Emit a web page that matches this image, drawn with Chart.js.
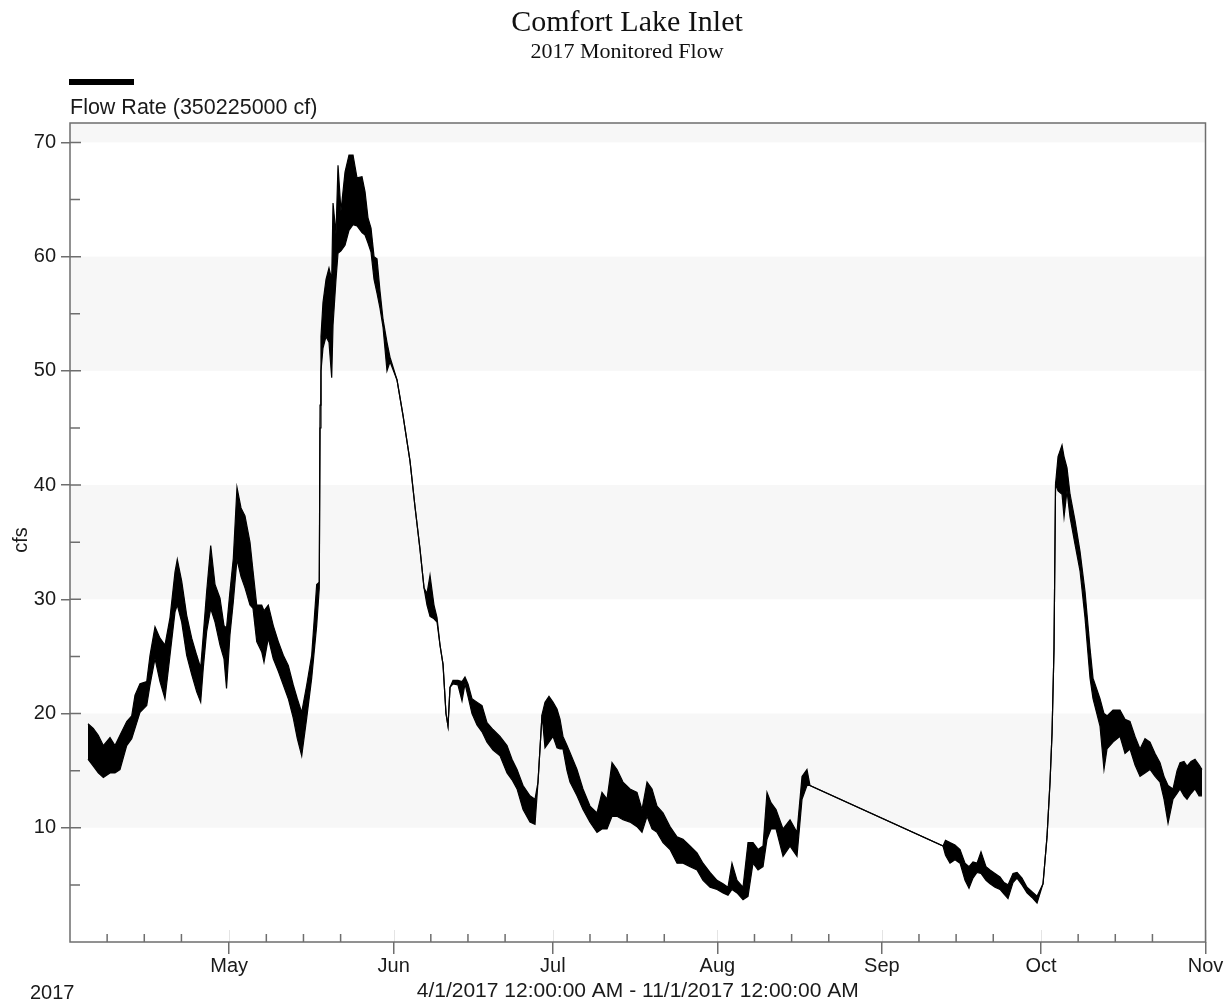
<!DOCTYPE html>
<html>
<head>
<meta charset="utf-8">
<title>Comfort Lake Inlet</title>
<style>
  html, body { margin: 0; padding: 0; background: #fff; }
  #wrap { width: 1228px; height: 1005px; position: relative; }
</style>
<script src="https://cdn.jsdelivr.net/npm/chart.js@4.4.1/dist/chart.umd.min.js"></script>
</head>
<body>
<div id="wrap"><canvas id="flowChart" width="1228" height="1005"></canvas></div>
<script>
// ---- Text ----
const chartTitle = 'Comfort Lake Inlet';
const chartSubtitle = '2017 Monitored Flow';
const seriesLabel = 'Flow Rate (350225000 cf)';
const yAxisLabel = 'cfs';
const yearLabel = '2017';
const rangeLabel = '4/1/2017 12:00:00 AM - 11/1/2017 12:00:00 AM';

// ---- X axis: days since 4/1/2017 ----
const monthDays = [30, 61, 91, 122, 153, 183, 214];
const monthLabels = ['May', 'Jun', 'Jul', 'Aug', 'Sep', 'Oct', 'Nov'];
// 8th, 15th and 22nd of each month
const weekDays = [7, 14, 21, 37, 44, 51, 68, 75, 82, 98, 105, 112, 129, 136, 143, 160, 167, 174, 190, 197, 204];

// ---- Y axis ----
const yTicks = [10, 20, 30, 40, 50, 60, 70];
const yMinorTicks = [5, 15, 25, 35, 45, 55, 65];
const shadedBands = [[10, 20], [30, 40], [50, 60], [70, 71.7]];

// ---- Flow record (cfs): day, low and high of the readings around that day ----
const flowDays = [
  3.39, 4.39, 5.33, 6.28, 7.54, 8.48, 9.42, 10.69, 11.63, 12.25,
  13.19, 14.46, 15.08, 16.02, 16.96, 17.90, 18.85, 19.79, 20.22, 21.05,
  21.99, 22.94, 23.88, 24.63, 25.12, 25.76, 26.52, 27.33, 28.27, 29.02,
  29.50, 30.15, 30.78, 31.47, 32.23, 32.98, 33.92, 34.49, 35.19, 36.13,
  36.56, 37.37, 38.31, 39.26, 40.20, 41.14, 42.08, 42.84, 43.67, 44.61,
  45.55, 46.49, 46.98, 47.12, 47.30, 47.68, 48.25, 48.81, 49.32, 49.57,
  50.13, 50.51, 51.07, 51.83, 52.58, 53.34, 54.09, 55.03, 55.60, 56.16,
  56.73, 57.30, 57.86, 58.42, 59.00, 59.74, 60.31, 61.63, 62.76, 64.08,
  65.02, 65.96, 66.72, 67.28, 67.85, 68.60, 69.17, 69.73, 70.30, 70.86,
  71.24, 71.62, 72.18, 73.12, 73.88, 74.44, 75.01, 75.76, 76.70, 77.65,
  78.59, 79.72, 81.04, 82.36, 83.30, 84.25, 85.38, 86.69, 87.64, 88.20,
  88.96, 89.52, 90.27, 91.03, 91.78, 92.35, 92.91, 93.67, 94.23, 95.55,
  96.68, 98.00, 99.32, 100.26, 101.21, 102.15, 103.09, 104.22, 105.54, 106.86,
  107.80, 108.75, 109.69, 110.63, 111.76, 113.08, 114.40, 115.53, 116.85, 118.17,
  119.30, 120.62, 121.94, 123.07, 124.01, 124.76, 125.71, 126.84, 127.78, 128.72,
  129.67, 130.61, 131.36, 132.11, 133.06, 134.38, 135.70, 137.01, 137.96, 138.89,
  139.47, 164.53, 165.00, 165.85, 166.79, 167.74, 168.68, 169.43, 170.18, 170.94,
  171.69, 172.63, 173.39, 174.33, 175.27, 176.03, 176.78, 177.72, 178.48, 179.42,
  180.36, 181.30, 182.25, 183.38, 184.13, 184.70, 185.08, 185.45, 185.74, 186.21,
  186.96, 187.34, 187.90, 188.47, 189.41, 190.35, 191.29, 192.24, 192.80, 194.12,
  194.87, 195.44, 196.57, 197.89, 198.83, 199.77, 200.72, 201.66, 202.60, 203.54,
  204.49, 205.43, 206.18, 206.94, 207.88, 208.64, 209.20, 209.95, 210.52, 211.27,
  212.02, 212.78, 213.34
];
const flowLow = [
  16.0, 15.4, 14.8, 14.4, 14.8, 14.8, 15.1, 17.2, 17.8, 18.7,
  20.1, 20.7, 22.5, 24.8, 22.8, 21.3, 25.1, 28.9, 29.5, 28.0,
  25.1, 23.4, 21.9, 21.0, 24.0, 27.2, 29.2, 28.0, 26.0, 24.8,
  22.2, 26.9, 29.8, 33.5, 32.0, 31.0, 29.5, 29.2, 26.3, 25.4,
  24.5, 26.6, 24.8, 23.7, 22.5, 21.3, 19.6, 17.8, 16.3, 19.6,
  23.1, 27.7, 31.0, 45.0, 50.0, 52.0, 53.0, 52.5, 49.4, 54.0,
  58.0, 60.3, 60.5, 61.0, 62.3, 62.8, 62.7, 62.1, 61.9, 61.2,
  60.4, 58.0, 56.8, 55.5, 53.8, 50.0, 50.8, 49.2, 46.1, 42.1,
  38.1, 34.4, 31.0, 29.5, 28.5, 28.3, 28.0, 26.0, 24.3, 20.0,
  18.9, 22.3, 22.6, 22.5, 21.1, 22.6, 21.5, 20.0, 19.0, 18.4,
  17.5, 16.8, 16.3, 14.8, 14.2, 13.4, 11.6, 10.5, 10.3, 14.0,
  19.9, 17.0, 17.5, 18.0, 17.0, 16.9, 16.9, 15.0, 14.0, 12.8,
  11.6, 10.5, 9.6, 9.9, 9.9, 11.0, 11.0, 10.7, 10.5, 10.1,
  9.6, 11.0, 9.9, 9.6, 8.7, 8.1, 6.9, 6.9, 6.6, 6.3,
  5.4, 4.8, 4.6, 4.3, 4.1, 4.6, 4.3, 3.7, 4.0, 6.9,
  6.3, 6.6, 9.0, 9.9, 9.9, 7.5, 8.4, 7.5, 12.5, 13.7,
  13.7, 8.4, 7.6, 6.9, 7.2, 6.9, 5.4, 4.7, 5.6, 6.1,
  6.0, 5.4, 5.1, 4.8, 4.6, 4.2, 3.8, 5.2, 5.6, 5.0,
  4.3, 3.9, 3.4, 5.1, 9.2, 14.0, 18.3, 25.7, 40.1, 39.5,
  39.2, 37.2, 39.5, 37.2, 34.8, 32.5, 28.4, 23.1, 21.3, 18.9,
  15.1, 16.9, 17.5, 18.0, 16.5, 16.9, 15.5, 14.5, 14.8, 15.1,
  14.5, 14.0, 12.5, 10.4, 12.5, 13.0, 13.4, 12.8, 12.5, 13.0,
  13.4, 12.8, 12.8
];
const flowHigh = [
  19.1, 18.7, 18.1, 17.2, 17.9, 17.2, 18.1, 19.3, 19.8, 21.6,
  22.6, 22.8, 25.1, 27.6, 26.6, 26.0, 28.4, 32.4, 33.5, 31.6,
  28.6, 26.6, 25.1, 24.0, 26.9, 30.7, 34.7, 31.3, 30.1, 27.7,
  27.5, 30.7, 33.6, 39.8, 38.0, 37.3, 35.0, 32.5, 29.5, 29.5,
  29.0, 29.5, 27.7, 26.3, 25.1, 24.2, 22.5, 21.3, 20.1, 22.5,
  25.1, 31.3, 31.5, 47.0, 53.0, 56.0, 58.0, 59.0, 58.0, 64.7,
  62.0, 68.0, 64.0, 67.4, 68.9, 68.9, 66.9, 67.0, 65.7, 63.4,
  62.5, 60.0, 59.8, 57.0, 54.5, 52.5, 51.2, 49.2, 46.1, 42.1,
  38.1, 34.4, 31.0, 30.5, 32.1, 29.5, 28.4, 26.0, 24.3, 20.0,
  18.9, 22.3, 22.9, 22.9, 22.8, 23.2, 22.6, 21.3, 21.0, 20.7,
  19.2, 18.6, 18.0, 17.2, 16.0, 15.1, 13.7, 12.8, 12.5, 14.0,
  19.9, 21.0, 21.5, 21.0, 20.4, 19.5, 18.0, 17.2, 16.6, 15.1,
  13.4, 11.9, 11.3, 13.1, 12.5, 15.7, 15.1, 14.0, 13.4, 13.1,
  11.6, 14.0, 13.4, 11.9, 11.3, 10.1, 9.2, 9.0, 8.4, 7.8,
  6.9, 6.1, 5.4, 5.1, 4.8, 6.9, 5.4, 4.8, 8.7, 8.7,
  8.1, 8.4, 13.1, 12.2, 11.6, 9.9, 10.7, 9.6, 14.5, 15.1,
  13.7, 8.4, 8.9, 8.7, 8.5, 8.1, 6.9, 6.6, 7.0, 6.9,
  7.9, 6.6, 6.3, 6.0, 5.7, 5.2, 5.0, 6.0, 6.1, 5.6,
  4.8, 4.4, 4.0, 5.1, 9.2, 14.0, 18.3, 25.7, 40.1, 42.5,
  43.5, 42.5, 41.5, 39.2, 36.9, 34.2, 30.7, 25.7, 23.1, 21.3,
  20.0, 19.8, 20.3, 20.3, 19.5, 19.3, 18.0, 16.9, 17.8, 17.5,
  16.5, 15.7, 14.5, 13.7, 13.4, 15.0, 15.7, 15.8, 15.4, 15.8,
  16.0, 15.5, 15.1
];

const SANS = '"Liberation Sans", Arial, sans-serif';
const SERIF = '"Liberation Serif", "Times New Roman", serif';
const AXIS_GREY = '#6e6e6e';

const lowPoints = flowDays.map((d, i) => ({ x: d, y: flowLow[i] }));
const highPoints = flowDays.map((d, i) => ({ x: d, y: flowHigh[i] }));

// White page and alternating grey bands behind the plot
const bandPlugin = {
  id: 'bands',
  beforeDraw(chart) {
    const { ctx, chartArea: a } = chart;
    const y = chart.scales.y;
    ctx.save();
    ctx.fillStyle = '#ffffff';
    ctx.fillRect(0, 0, chart.width, chart.height);
    ctx.fillStyle = '#f7f7f7';
    shadedBands.forEach(([lo, hi]) => {
      const y1 = y.getPixelForValue(hi);
      const y2 = y.getPixelForValue(lo);
      ctx.fillRect(a.left, y1, a.right - a.left, y2 - y1);
    });
    ctx.restore();
  }
};

// Plot frame, inward tick marks and the header / footer texts
const framePlugin = {
  id: 'frame',
  afterDatasetsDraw(chart) {
    const { ctx, chartArea: a } = chart;
    const x = chart.scales.x;
    const y = chart.scales.y;
    ctx.save();
    // faint month stubs above the time axis
    ctx.strokeStyle = '#e4e4e4';
    ctx.lineWidth = 1;
    monthDays.forEach(d => {
      const px = Math.round(x.getPixelForValue(d)) + 0.5;
      ctx.beginPath();
      ctx.moveTo(px, a.bottom - 12);
      ctx.lineTo(px, a.bottom);
      ctx.stroke();
    });
    ctx.strokeStyle = AXIS_GREY;
    ctx.lineWidth = 1.5;
    ctx.strokeRect(a.left, a.top, a.right - a.left, a.bottom - a.top);
    ctx.beginPath();
    yTicks.forEach(v => {
      const py = y.getPixelForValue(v);
      ctx.moveTo(a.left, py);
      ctx.lineTo(a.left + 11, py);
    });
    yMinorTicks.forEach(v => {
      const py = y.getPixelForValue(v);
      ctx.moveTo(a.left, py);
      ctx.lineTo(a.left + 10, py);
    });
    weekDays.forEach(d => {
      const px = x.getPixelForValue(d);
      ctx.moveTo(px, a.bottom);
      ctx.lineTo(px, a.bottom - 8);
    });
    ctx.stroke();
    ctx.restore();
  },
  afterDraw(chart) {
    const { ctx } = chart;
    ctx.save();
    ctx.fillStyle = '#111';
    ctx.textAlign = 'center';
    ctx.textBaseline = 'alphabetic';
    ctx.font = '30px ' + SERIF;
    ctx.fillText(chartTitle, 627, 31);
    ctx.font = '22px ' + SERIF;
    ctx.fillText(chartSubtitle, 627, 58);
    // legend entry
    ctx.fillStyle = '#000';
    ctx.fillRect(69, 79, 65, 6);
    ctx.fillStyle = '#1a1a1a';
    ctx.textAlign = 'left';
    ctx.font = '21.5px ' + SANS;
    ctx.fillText(seriesLabel, 70, 114);
    ctx.font = '20px ' + SANS;
    ctx.fillText(yearLabel, 30, 999);
    // value axis caption
    ctx.translate(27, 540);
    ctx.rotate(-Math.PI / 2);
    ctx.textAlign = 'center';
    ctx.fillText(yAxisLabel, 0, 0);
    ctx.restore();
  }
};

new Chart(document.getElementById('flowChart'), {
  type: 'line',
  data: {
    datasets: [
      {
        label: seriesLabel,
        data: lowPoints,
        borderColor: '#000',
        borderWidth: 1.2,
        pointRadius: 0,
        tension: 0,
        fill: false
      },
      {
        label: seriesLabel,
        data: highPoints,
        borderColor: '#000',
        backgroundColor: '#000',
        borderWidth: 1.2,
        pointRadius: 0,
        tension: 0,
        fill: '-1'
      }
    ]
  },
  options: {
    responsive: false,
    animation: false,
    devicePixelRatio: 1,
    layout: { padding: { top: 123, right: 22.5, left: 0, bottom: 0 } },
    plugins: {
      legend: { display: false },
      title: { display: false },
      tooltip: { enabled: false }
    },
    scales: {
      x: {
        type: 'linear',
        min: 0,
        max: 214,
        afterFit(scale) { scale.height = 63; },
        afterBuildTicks(scale) { scale.ticks = monthDays.map(v => ({ value: v })); },
        ticks: {
          autoSkip: false,
          maxRotation: 0,
          padding: 0,
          color: '#1a1a1a',
          font: { family: SANS, size: 20 },
          callback(value) {
            const i = monthDays.indexOf(value);
            return i >= 0 ? monthLabels[i] : '';
          }
        },
        grid: { drawOnChartArea: false, tickLength: 12, color: AXIS_GREY, lineWidth: 1.5 },
        border: { display: false },
        title: {
          display: true,
          text: rangeLabel,
          color: '#1a1a1a',
          font: { family: SANS, size: 21 },
          padding: { top: 0, bottom: 1 }
        }
      },
      y: {
        min: 0,
        max: 71.7,
        afterFit(scale) { scale.width = 70; },
        afterBuildTicks(scale) { scale.ticks = yTicks.map(v => ({ value: v })); },
        ticks: {
          padding: 5,
          color: '#1a1a1a',
          font: { family: SANS, size: 20 }
        },
        grid: { drawOnChartArea: false, tickLength: 9, color: AXIS_GREY, lineWidth: 1.5 },
        border: { display: false },
        title: { display: false }
      }
    }
  },
  plugins: [bandPlugin, framePlugin]
});
</script>
</body>
</html>
